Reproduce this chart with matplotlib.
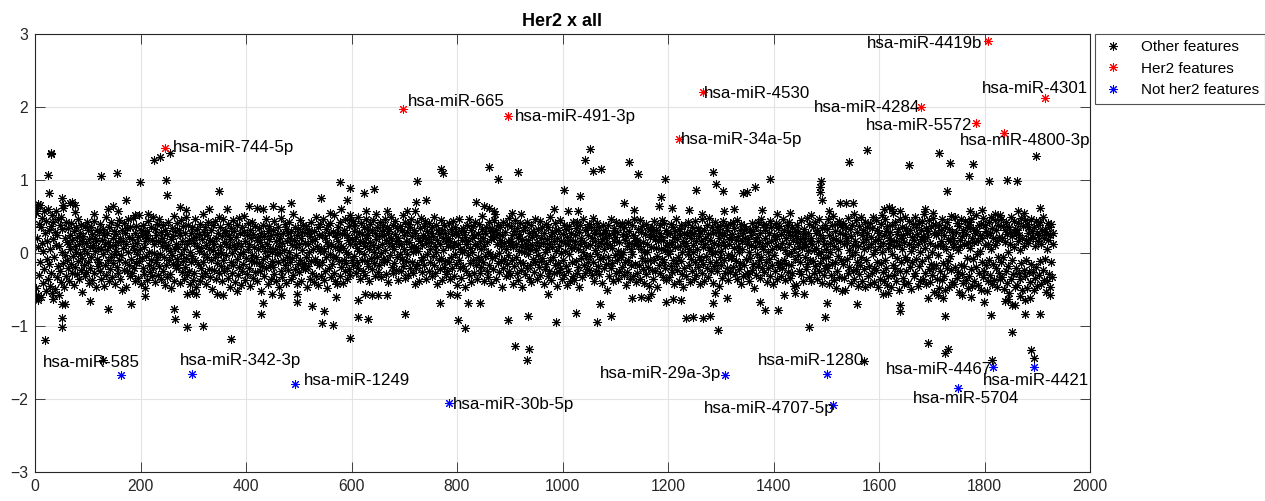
import numpy as np
import matplotlib
matplotlib.use("Agg")
import matplotlib.pyplot as plt

plt.rcParams['font.family'] = ['Liberation Sans', 'DejaVu Sans']

# ---------------- data ----------------
# dense core of "other features" (hundredths), one value per feature index 1..N
core_y_hundredths = [
 55, -48, 21, 62, -57, 8, 40, -30, 66, -12, 35, -60, 14, 48, -41, 3, 58, -22, 27, -52, 44, -8, 16, -36, 60, -15, 31, -45, 5, 37,
 -27, 52, -55, 19, 43, -6, 29, -49, 11, 57, -33, 24, -18, 46, -58, 9, 38, -24, 50, -40, 1, 33, -14, 61, -46, 20, -3, 42, -31, 15,
 -9, 34, -21, 12, -38, 25, 6, -15, 41, -27, 18, -4, 30, -44, 10, -19, 36, 2, -29, 22, -11, 47, -35, 13, -2, 28, -23, 39, -7, 17,
 23, -16, 5, 37, -32, 14, -26, 43, 0, -12, 31, -41, 19, 8, -20, 35, -5, 26, -37, 11, 44, -28, 3, 21, -47, 16, -8, 32, -18, 7,
 -13, 29, 40, -24, 6, -36, 18, -1, 33, -45, 24, 12, -17, 49, -30, 4, 27, -10, 15, -39, 36, -22, 9, -6, 42, -33, 20, -14, 30, -2,
 11, -42, 26, 3, -19, 38, -28, 15, -9, 45, -35, 21, -3, 32, -50, 17, 7, -23, 41, -12, 28, -46, 13, 34, -25, 1, 46, -16, 22, -31,
 35, -8, 19, -27, 10, 48, -20, 4, -39, 27, -14, 37, -1, 14, -34, 22, 52, -11, 6, -43, 31, -7, 24, -21, 39, -29, 8, 16, -48, 25,
 -4, 30, -37, 20, 44, -16, 2, -26, 36, -9, 18, -32, 50, -21, 12, 0, -40, 33, -13, 25, -5, 40, -30, 17, -18, 47, -2, 29, -36, 9,
 21, -25, 38, -6, 15, -44, 31, 7, -17, 26, -33, 11, 43, -10, 3, -29, 19, -48, 34, -3, 23, -15, 51, -38, 6, 30, -20, 13, -8, 41,
 -17, 8, 32, -41, 24, -2, 45, -26, 16, -11, 37, -35, 5, 28, -19, 49, -7, 12, -30, 39, -24, 18, 2, -42, 27, -13, 35, -4, 20, -37,
 14, -28, 47, -9, 22, -46, 10, 33, -15, 3, 26, -38, 40, -20, 7, -31, 19, 54, -12, 29, -1, 36, -27, 11, -43, 24, -6, 42, -22, 6,
 -33, 18, -10, 31, -49, 16, 4, 39, -23, 12, -5, 44, -36, 21, -14, 27, -2, 50, -28, 9, 35, -18, 1, -39, 23, 46, -9, 15, -25, 32,
 27, -3, 13, -21, 40, -34, 8, 25, -47, 19, -12, 34, 0, -27, 45, -16, 11, 30, -40, 5, 22, -8, 38, -30, 14, -19, 48, -1, 28, -44,
 9, 36, -24, 2, -15, 29, 51, -37, 17, -7, 24, -29, 41, 6, -20, 13, -45, 32, -11, 20, -3, 43, -34, 26, -13, 8, -26, 37, -6, 18,
 -39, 22, 5, -14, 34, -25, 15, -52, 28, 10, -18, 39, -8, 23, -32, 3, 46, -21, 12, -4, 30, -42, 19, 37, -16, 7, -35, 25, 1, -11,
 31, -19, 44, -29, 6, 17, -38, 26, -2, 35, -13, 9, -46, 21, 0, 48, -24, 14, -33, 28, -10, 4, 40, -17, 33, -41, 16, -5, 27, -23,
 2, 42, -12, 20, -36, 30, -7, 11, 53, -30, 18, -22, 36, -3, 8, -43, 25, -15, 33, 12, -26, 45, -9, 21, -38, 4, 29, -20, 38, -14,
 -22, 14, 37, -5, 27, -47, 13, -18, 31, 1, -35, 23, -11, 42, -28, 17, 6, -40, 30, -8, 19, -31, 49, -12, 10, 35, -44, 24, -17, 3,
 40, -31, 7, 24, -13, 46, -37, 3, 20, -24, 33, -6, 15, -48, 38, 9, -21, 27, -2, 41, -33, 13, -15, 29, -5, 52, -27, 8, -39, 22,
 -6, 28, -43, 16, 35, -11, 4, -32, 43, -19, 10, 26, -41, 7, -9, 31, -25, 47, -14, 2, 24, -36, 18, -1, 37, -22, 12, -30, 45, -10,
 19, 44, -16, 30, -4, 12, 38, -27, 22, 7, -13, 50, -20, 29, 3, -35, 17, 41, -9, 26, -24, 14, 35, -2, 9, -30, 47, 21, -11, 33,
 -18, 25, 6, -38, 40, 15, -7, 32, -22, 11, 45, -14, 2, 28, -31, 19, 53, -6, 36, -26, 8, 23, -17, 42, 0, -33, 30, 13, -8, 39,
 24, -12, 47, 4, -29, 18, 36, -10, 27, -40, 14, 33, -3, 21, 49, -19, 10, -28, 38, 5, -14, 26, 44, -23, 16, -5, 34, -37, 20, 12,
 -2, 37, -25, 13, 31, -8, 52, -18, 6, 24, -34, 42, 17, -11, 29, -1, 40, -30, 15, 35, -20, 8, 46, -13, 23, 1, -27, 32, 10, -42,
 28, 7, -21, 43, -15, 20, 3, -39, 34, 16, -9, 48, -26, 11, 25, -6, 37, -17, 22, 44, -35, 14, -2, 30, 19, -24, 41, 6, -12, 27,
 15, -32, 35, -4, 23, 50, -16, 9, -28, 39, 2, 18, -43, 31, -10, 26, 13, -22, 45, -7, 32, -37, 20, 4, -19, 38, -11, 27, -29, 16,
 -25, 21, 10, -13, 41, -36, 17, 33, -5, 26, -20, 8, 44, -31, 14, -1, 36, -15, 28, -44, 12, 25, -9, 47, -21, 5, 30, -34, 18, 2,
 34, -18, 4, 29, -47, 22, 12, -24, 39, -3, 16, -30, 46, 7, -14, 32, -40, 20, 1, 37, -10, 24, -27, 13, 43, -16, 9, -36, 26, -6,
 -9, 40, -28, 17, 5, -19, 33, 51, -12, 21, -38, 10, 27, -4, 35, -25, 15, 2, -33, 42, -17, 30, -1, 19, -41, 34, -7, 23, -22, 45,
 22, -4, 31, -35, 12, 26, -14, 39, 0, -26, 18, 36, -11, 9, -46, 24, 43, -20, 14, -8, 29, -31, 6, 38, -15, 17, -3, 48, -24, 11,
 -30, 16, 37, -9, 24, -42, 8, 30, -18, 45, -5, 13, -27, 34, 20, -37, 3, 26, -12, 41, -23, 10, -47, 19, 32, -14, 1, 36, -29, 7,
 13, -21, 42, -2, 18, -34, 28, 5, -16, 38, -40, 22, 11, -8, 30, -26, 47, -13, 4, 25, -36, 15, -3, 33, -19, 9, 44, -30, 21, -11,
 36, -7, 14, -43, 27, 2, -22, 40, -15, 19, 6, -32, 35, -24, 12, 49, -10, 23, -37, 8, 29, -5, 16, -28, 41, -17, 3, 31, -45, 20,
 -14, 32, -26, 9, 45, -20, 17, 0, -35, 26, -9, 39, -30, 14, 3, -18, 33, -44, 22, 12, -25, 37, -1, 18, -38, 28, 7, -12, 43, -31,
 8, -37, 25, 16, -11, 34, -28, 43, 6, -19, 29, -46, 12, 38, -7, 21, -33, 2, 46, -16, 15, -27, 31, 10, -4, 36, -22, 24, -13, 40,
 -23, 11, -4, 36, -30, 21, 48, -13, 27, -39, 4, 17, -25, 32, -1, 41, -18, 10, -29, 35, -8, 26, 14, -41, 19, -6, 38, -20, 5, 28,
 31, -15, 20, -50, 13, 39, -6, 24, -32, 11, 46, -21, 7, -14, 28, -38, 16, 34, -3, 22, -27, 43, -10, 29, -35, 3, 15, -24, 37, -2,
 -5, 41, -19, 26, 1, -30, 35, -12, 18, -44, 23, 9, -26, 42, -9, 14, 30, -36, 6, -17, 39, -2, 25, -31, 12, 47, -15, 20, -40, 17,
 18, -28, 9, 33, -17, 45, -35, 5, 29, -7, 37, -22, 15, 2, -41, 26, -11, 40, -29, 13, 1, -19, 34, -45, 22, -9, 30, 8, -23, 36,
 -36, 24, 44, -10, 19, -25, 7, 31, -4, -47, 16, 28, -16, 38, -28, 6, 23, -8, 45, -33, 18, -13, 41, 4, -21, 32, -37, 11, 26, -1,
 12, -33, 27, 3, -18, 40, -26, 15, 35, -9, 22, -42, 8, 30, -14, 47, -23, 19, -5, 33, -38, 10, 24, -11, 39, -29, 2, 17, -46, 28,
 -20, 9, 38, -31, 14, 25, -1, 43, -17, 6, -40, 29, 20, -8, 36, -24, 11, 1, -35, 27, -12, 44, -30, 16, 5, -19, 34, -6, 23, -43,
 30, -10, 17, 46, -27, 8, -15, 32, -38, 21, 13, -4, 39, -21, 26, -33, 4, 48, -13, 18, -25, 7, 35, -2, 28, -41, 14, -18, 42, 1,
 -12, 35, -24, 11, 29, -45, 20, -6, 37, -16, 3, 27, -34, 15, 44, -9, 24, -28, 9, 38, -20, 31, -3, -37, 19, 12, -26, 40, -7, 22,
 26, -4, 42, -19, 7, 34, -29, 18, -11, 45, -36, 10, 23, -22, 2, 31, -14, 40, -42, 16, 5, -31, 28, 37, -17, 21, -8, 33, -27, 13,
 -29, 19, 1, -39, 33, -7, 24, 11, -23, 41, -15, 30, -48, 16, 8, -30, 36, -2, 22, -18, 43, -10, 15, -34, 27, -5, 46, -21, 9, 38,
 5, -26, 31, 20, -13, 39, -40, 14, 2, -20, 28, -8, 44, -31, 17, 35, -16, 6, -43, 25, -3, 19, -24, 41, 10, -36, 23, -12, 34, -19,
 37, -14, 8, -32, 26, 14, -21, 47, -9, 32, -37, 4, 21, -15, 38, -1, 29, -26, 12, 42, -34, 24, 0, -17, 36, -28, 18, 6, -45, 30,
 -8, 23, -44, 15, 39, -3, 30, -25, 10, 19, -12, 45, -29, 7, 26, -39, 13, 33, -6, 21, -22, 9, 48, -15, 3, 27, -33, 40, -10, 16,
 21, -38, 12, 35, -11, 4, -28, 43, -18, 27, 7, -35, 31, -2, 16, -24, 46, -14, 24, 1, -41, 34, -7, 20, -30, 13, 39, -21, 5, -16,
 33, -20, 47, -6, 25, -43, 14, 2, -30, 38, -15, 21, 51, -37, 9, -12, 30, -48, 18, 40, -25, 6, -4, 44, -33, 16, 28, -9, -52, 35,
 -15, 41, -34, 12, 26, -50, 20, 36, -8, 14, -27, 48, 4, -19, 33, -41, 23, -3, 39, -24, 11, 53, -36, 17, 1, -22, 45, -13, 29, -45,
 10, -29, 37, -17, 49, -5, 24, -39, 15, 32, -22, 6, 43, -46, 19, -10, 36, 27, -32, 8, -18, 41, -43, 22, 12, -28, 34, -1, 50, -20,
 -40, 16, 4, 45, -23, 31, -12, 19, -47, 28, 10, -35, 40, -14, 2, 52, -26, 14, -38, 24, 47, -9, 30, -20, -44, 37, 7, -31, 21, 13,
 29, -47, 18, -2, 38, -16, 55, -30, 9, -21, 42, 17, -39, 26, -7, 33, -51, 11, 46, -24, 20, -13, 36, 5, -34, 24, -42, 15, 49, -6,
 -24, 34, -9, 27, -41, 13, 44, -19, 31, 3, -49, 22, -13, 40, 8, -32, 18, 50, -27, 35, -8, 26, -45, 12, 41, -18, 2, -38, 31, 19,
 44, -11, 23, -36, 16, 53, -28, 7, -43, 34, 22, -5, 30, -22, 45, -40, 14, -15, 37, 1, -30, 48, -20, 27, -53, 9, 39, -16, 25, -35,
 -3, 28, -48, 39, 11, -25, 32, 17, -37, 47, -14, 10, -31, 25, -50, 36, 6, -21, 42, -11, 19, -46, 33, -4, 16, 51, -23, 29, -40, 8,
 20, -42, 13, 50, -19, 29, -34, 41, 4, -26, 37, -54, 18, 9, -16, 46, -29, 23, -41, 31, 12, -18, 44, -37, 26, -7, 35, -48, 14, 42,
 -31, 36, 7, -22, 46, -45, 21, -8, 33, 15, -39, 27, -19, 52, -2, 30, -44, 17, 38, -28, 24, 3, -51, 40, -12, 20, -33, 48, -25, 11,
 39, -17, 30, -52, 24, 12, -38, 43, -10, 28, -30, 49, 6, -43, 34, -15, 20, -37, 11, 45, -21, 32, -47, 16, -6, 39, -27, 22, 52, -36,
 -13, 47, -33, 20, -5, 37, -49, 15, 31, -24, 42, -41, 26, 1, -18, 35, -55, 29, 13, -35, 50, -10, 23, -29, 44, 8, -46, 33, -20, 27,
 32, -44, 16, 41, -27, 25, 4, -36, 48, -14, 21, -50, 37, -23, 10, 45, -32, 18, -9, 40, -48, 28, 14, -26, 36, -40, 19, 47, -15, 30,
 -26, 22, -51, 35, 9, -34, 44, -19, 27, -45, 17, 38, -30, 24, -11, 43, -42, 13, 30, -23, 49, -37, 21, -8, 33, -53, 26, 5, -39, 41,
 18, -29, 36, -47, 24, -13, 40, -33, 12, 28,
]

# "other features" on the ragged fringe of the dense core
fringe_x = [0, 5, 54, 66, 70, 75, 75, 111, 138, 148, 157, 172, 189, 215, 274, 286, 329, 364, 405, 420, 432, 452, 467,
            560, 580, 598, 628, 668, 705, 720, 860, 870, 836, 852, 872, 905, 921, 984, 1010, 1030, 1117, 1136, 1182,
            1207, 1239, 1265, 1306, 1325, 1379, 1406, 1431, 1471, 1505, 1526, 1538, 1551, 1609, 1619, 1624, 1640,
            1688, 1703, 1772, 1820, 1864, 1874,
            6, 34, 90, 208, 289, 297, 305, 345, 357, 383, 450, 467, 496, 571, 625, 638, 650, 667, 787, 800, 973, 1132,
            1148, 1163, 1167, 1210, 1225, 1290, 1312, 1419, 1441, 1457, 1607, 1617, 1692, 1711, 1722, 1758, 1775,
            1799, 1839, 1844, 1858, 1867, 1876, 1886, 1925]
fringe_y = [0.57, 0.67, 0.66, 0.68, 0.70, 0.66, 0.56, 0.54, 0.60, 0.65, 0.58, 0.72, 0.52, 0.53, 0.63, 0.59, 0.60, 0.60, 0.65, 0.62, 0.60, 0.64, 0.60,
            0.55, 0.60, 0.52, 0.58, 0.58, 0.57, 0.57, 0.62, 0.58, 0.70, 0.65, 0.53, 0.55, 0.53, 0.60, 0.58, 0.58, 0.68, 0.59, 0.64,
            0.62, 0.59, 0.53, 0.58, 0.60, 0.59, 0.53, 0.55, 0.52, 0.57, 0.68, 0.68, 0.68, 0.60, 0.63, 0.60, 0.58,
            0.60, 0.55, 0.57, 0.53, 0.58, 0.55,
            -0.65, -0.63, -0.54, -0.59, -0.56, -0.54, -0.56, -0.56, -0.58, -0.52, -0.56, -0.57, -0.56, -0.60, -0.56, -0.57, -0.58, -0.58, -0.56, -0.57, -0.56, -0.61,
            -0.60, -0.62, -0.56, -0.63, -0.65, -0.55, -0.61, -0.58, -0.55, -0.56, -0.56, -0.55, -0.61, -0.57, -0.62, -0.58, -0.60,
            -0.67, -0.66, -0.63, -0.71, -0.59, -0.64, -0.62, -0.58]

# sparse "other features" lying well outside the dense core
outlier_x = [30, 31, 24, 27, 126, 156, 199, 226, 237, 256, 248, 251, 348, 578, 598, 624, 643, 542, 485, 591, 52,
             725, 770, 773, 861, 877, 915, 1003, 1034, 1043, 1053, 1057, 1073, 1127, 1144, 1194, 1254, 1285, 1291,
             1304, 1187, 742, 722, 1343, 1349, 1365, 1393, 1490, 1488, 1489, 1492, 1543, 1577, 1657, 1714, 1735,
             1778, 1771, 1728, 1809, 1842, 1861, 1897, 1905, 1795,
             2, 19, 51, 51, 51, 56, 104, 138, 182, 128, 264, 265, 288, 305, 319, 372, 432, 428, 496, 525, 548, 545,
             564, 597, 613, 612, 631, 701, 768, 801, 816, 821, 844, 896, 935, 910, 937, 932, 988, 1026, 1071, 1066,
             1092, 1197, 1235, 1248, 1267, 1280, 1294, 1285, 1374, 1383, 1408, 1502, 1498, 1468, 1558, 1640, 1640,
             1725, 1812, 1853, 1876, 1905, 1853, 1693, 1730, 1725, 1572, 1815, 1888, 1893]
outlier_y = [1.37, 1.35, 1.07, 0.82, 1.06, 1.10, 0.97, 1.28, 1.31, 1.37, 1.00, 0.80, 0.85, 0.97, 0.89, 0.82, 0.88, 0.76, 0.69, 0.73, 0.75,
             0.98, 1.15, 1.09, 1.18, 1.01, 1.11, 0.86, 0.78, 1.28, 1.42, 1.13, 1.15, 1.25, 1.08, 1.02, 0.86, 1.11, 0.95,
             0.85, 0.77, 0.73, 0.70, 0.82, 0.83, 0.91, 1.02, 0.98, 0.91, 0.83, 0.73, 1.24, 1.41, 1.21, 1.37, 1.23,
             1.22, 1.05, 0.85, 0.99, 1.00, 0.99, 1.33, 0.62, 0.59,
             -0.62, -1.19, -0.89, -1.02, -0.70, -0.70, -0.66, -0.77, -0.70, -1.47, -0.77, -0.90, -1.02, -0.84, -1.00, -1.18, -0.69, -0.83, -0.67, -0.73, -0.80, -0.96,
             -0.98, -1.16, -0.64, -0.87, -0.91, -0.84, -0.68, -0.92, -1.03, -0.69, -0.68, -0.92, -0.86, -1.28, -1.31, -1.47, -0.95, -0.82, -0.70, -0.94,
             -0.86, -0.67, -0.89, -0.88, -0.89, -0.86, -1.06, -0.69, -0.67, -0.78, -0.78, -0.69, -0.87, -1.02, -0.70, -0.71, -0.80,
             -0.86, -0.85, -0.71, -0.84, -0.84, -1.08, -1.23, -1.31, -1.37, -1.48, -1.47, -1.33, -1.44]

her2_names = ['hsa-miR-744-5p', 'hsa-miR-665', 'hsa-miR-491-3p', 'hsa-miR-4530', 'hsa-miR-34a-5p',
              'hsa-miR-4419b', 'hsa-miR-4301', 'hsa-miR-4284', 'hsa-miR-5572', 'hsa-miR-4800-3p']
her2_x = [246, 698, 897, 1266, 1221, 1807, 1914, 1679, 1783, 1837]
her2_y = [1.44, 1.97, 1.88, 2.20, 1.56, 2.90, 2.12, 2.00, 1.78, 1.64]

not_names = ['hsa-miR-585', 'hsa-miR-342-3p', 'hsa-miR-1249', 'hsa-miR-30b-5p', 'hsa-miR-29a-3p',
             'hsa-miR-1280', 'hsa-miR-4707-5p', 'hsa-miR-4467', 'hsa-miR-5704', 'hsa-miR-4421']
not_x = [163, 298, 493, 785, 1308, 1502, 1513, 1816, 1750, 1894]
not_y = [-1.67, -1.66, -1.79, -2.05, -1.67, -1.66, -2.08, -1.56, -1.85, -1.56]

# label anchor positions (data coords) and alignment
her2_lab = [(261, 1.44, 'left'), (707, 2.07, 'left'), (910, 1.87, 'left'), (1268, 2.19, 'left'),
            (1224, 1.55, 'left'), (1795, 2.87, 'right'), (1896, 2.25, 'center'), (1678, 2.00, 'right'),
            (1777, 1.74, 'right'), (1877, 1.54, 'center')]
not_lab = [(107, -1.50, 'center'), (390, -1.47, 'center'), (509, -1.75, 'left'), (793, -2.07, 'left'),
           (1300, -1.65, 'right'), (1472, -1.47, 'center'), (1515, -2.13, 'right'), (1814, -1.59, 'right'),
           (1765, -1.99, 'center'), (1897, -1.74, 'center')]

# ---------------- plot ----------------
core_y = np.array(core_y_hundredths) / 100.0
core_x = np.arange(1, len(core_y) + 1)
other_x = np.concatenate([core_x, fringe_x, outlier_x])
other_y = np.concatenate([core_y, fringe_y, outlier_y])

fig = plt.figure(figsize=(12.65, 5.01), dpi=100)
ax = fig.add_axes([35 / 1265, 29 / 501, 1055 / 1265, 438 / 501])

mk = (8, 2, 0)
ms = 6.5
mw = 0.75
ax.plot(other_x, other_y, linestyle='none', marker=mk, color='k', ms=ms, mew=mw, label='Other features')
ax.plot(her2_x, her2_y, linestyle='none', marker=mk, color='#ff0000', ms=ms, mew=mw, label='Her2 features')
ax.plot(not_x, not_y, linestyle='none', marker=mk, color='#0000ff', ms=ms, mew=mw, label='Not her2 features')

for name, (tx, ty, ha) in zip(her2_names, her2_lab):
    ax.text(tx, ty, name, ha=ha, va='center', fontsize=12.2, color='k')
for name, (tx, ty, ha) in zip(not_names, not_lab):
    ax.text(tx, ty, name, ha=ha, va='center', fontsize=12.2, color='k')

ax.set_xlim(0, 2000)
ax.set_ylim(-3, 3)
ax.set_xticks(np.arange(0, 2001, 200))
ax.set_yticks(np.arange(-3, 4, 1))
ax.grid(True, color='#e3e3e3', linewidth=0.8)
ax.set_axisbelow(True)
ax.tick_params(direction='in', length=7.5, width=0.6, top=True, right=True,
               labelsize=11.3, colors='#262626', pad=5)
for s in ax.spines.values():
    s.set_color('#262626')
    s.set_linewidth(0.8)

ax.set_title('Her2 x all', fontsize=13, fontweight='bold', color='k', pad=6)

leg = ax.legend(loc='upper left', bbox_to_anchor=(1.0045, 1.0), fontsize=11, frameon=True,
                fancybox=False, borderaxespad=0, handlelength=1.6, handletextpad=1.0,
                labelspacing=0.5, borderpad=0.4)
leg.get_frame().set_edgecolor('#262626')
leg.get_frame().set_linewidth(0.8)

fig.savefig('out.png', dpi=100)
